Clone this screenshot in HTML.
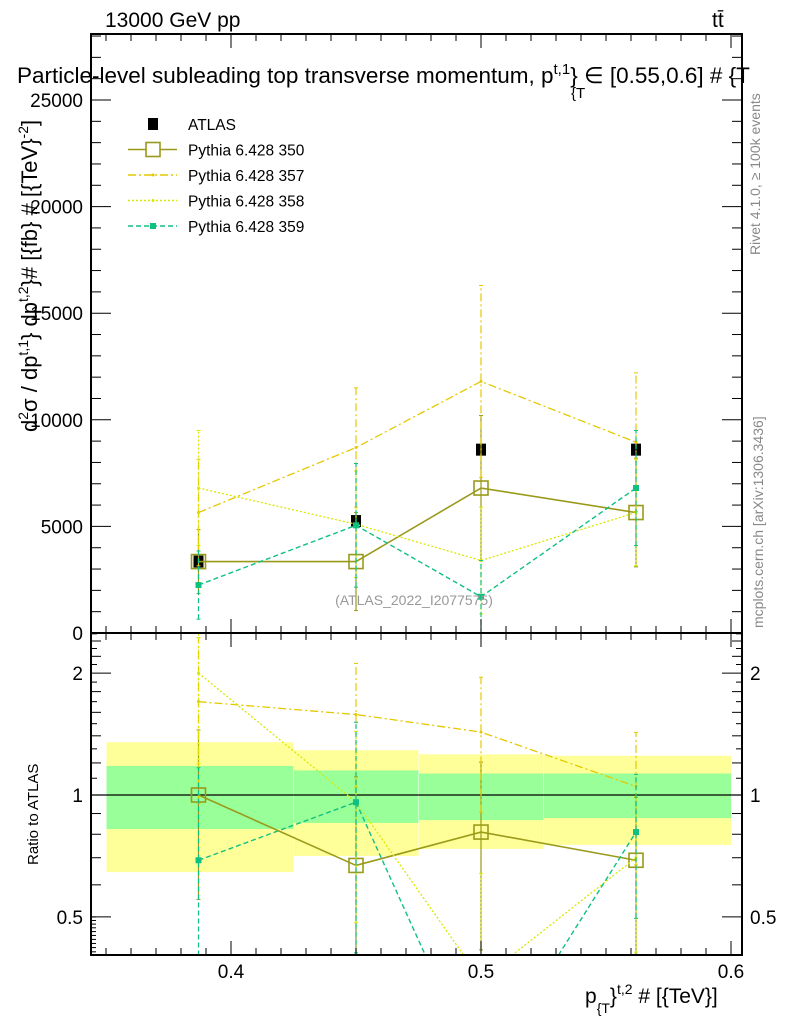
<!DOCTYPE html>
<html><head><meta charset="utf-8"><style>
html,body{margin:0;padding:0;background:#fff;overflow:hidden;width:786px;height:1024px}
svg{display:block;font-family:"Liberation Sans",sans-serif}
</style></head><body>
<svg id="c" width="786" height="1024" viewBox="0 0 786 1024" xmlns="http://www.w3.org/2000/svg">
<g id="bands"></g>
<g id="marks"></g>
<g id="axes"></g>
<text x="105" y="27" font-size="21">13000 GeV pp</text>
<text x="712" y="27" font-size="21">tt̄</text>
<text x="17" y="83" font-size="22.5">Particle-level subleading top transverse momentum, p<tspan dy="-9" font-size="15">t,1</tspan><tspan dy="9">}</tspan> ∈ [0.55,0.6] # {T</text>
<text x="571" y="98" font-size="15">{T</text>
<text transform="translate(37,432) rotate(-90)" font-size="22">d<tspan dy="-9" font-size="14">2</tspan><tspan dy="9">σ / dp</tspan><tspan dy="-9" font-size="14">t,1</tspan><tspan dy="9">} dp</tspan><tspan dy="-9" font-size="14">t,2</tspan><tspan dy="9">}# [{fb} # [{TeV}</tspan><tspan dy="-9" font-size="14">-2</tspan><tspan dy="9">]</tspan></text>
<text transform="translate(38,865) rotate(-90)" font-size="15">Ratio to ATLAS</text>
<text x="585" y="1003" font-size="21">p<tspan dy="10" font-size="14">{T</tspan><tspan dy="-10">}</tspan><tspan dy="-9" font-size="14">t,2</tspan><tspan dy="9"> # [{TeV}]</tspan></text>
<text transform="translate(760,255) rotate(-90)" font-size="14" fill="#888">Rivet 4.1.0, ≥ 100k events</text>
<text transform="translate(763,628) rotate(-90)" font-size="14" fill="#888">mcplots.cern.ch [arXiv:1306.3436]</text>
<text x="414" y="605" font-size="14" fill="#999" text-anchor="middle">(ATLAS_2022_I2077575)</text>
</svg>
<script>
const xVals=[0.387,0.45,0.5,0.562];
const atlas=[3350,5250,8600,8600];
const s350=[3350,3350,6800,5650];
const e350=[1500,2300,3400,2550];
const s357=[5650,8700,11800,8950];
const e357=[2500,2800,4500,3250];
const s358=[6800,5100,3400,5650];
const e358=[2700,2500,2500,2500];
const s359=[2250,5050,1700,6800];
const e359=[1600,2900,1700,2700];
const r350=[1.0,0.67,0.81,0.69];
const r357=[1.70,1.58,1.43,1.05];
const r358=[2.0,0.96,0.35,0.70];
const r359=[0.69,0.96,0.2,0.81];
const binEdges=[0.35,0.425,0.475,0.525,0.6];
const yelHi=[1.35,1.29,1.26,1.25];
const yelLo=[0.645,0.707,0.736,0.753];
const grnHi=[1.18,1.15,1.13,1.13];
const grnLo=[0.824,0.853,0.867,0.877];
const yTicks=[0,5000,10000,15000,20000,25000];
const rTicks=[0.5,1,2];
const xTicks=[0.4,0.5,0.6];

const NS="http://www.w3.org/2000/svg";
const L=91,R=742,T=34,M=633,B=955;
const X=v=>231+(v-0.4)*2500;
const Y=v=>633-v*0.02132;
const RY=v=>795-Math.log10(v)*405;
function mk(p,tag,at){const e=document.createElementNS(NS,tag);for(const k in at)e.setAttribute(k,at[k]);document.getElementById(p).appendChild(e);return e;}

for(let i=0;i<4;i++){
 const x1=X(binEdges[i])+0.5,x2=X(binEdges[i+1]);
 const y=mk('bands','rect',{x:x1,y:RY(yelHi[i]),width:x2-x1,height:RY(yelLo[i])-RY(yelHi[i]),fill:'#ffff99'});
 
 
 const g=mk('bands','rect',{x:x1,y:RY(grnHi[i]),width:x2-x1,height:RY(grnLo[i])-RY(grnHi[i]),fill:'#99ff99'});
 
 
}
const one=mk('bands','line',{x1:L,x2:R,y1:RY(1),y2:RY(1),stroke:'#000','stroke-width':1.2});



const defs=mk('marks','defs',{});
const cp1=document.createElementNS(NS,'clipPath');cp1.id='cm';defs.appendChild(cp1);
const r1=document.createElementNS(NS,'rect');r1.setAttribute('x',L);r1.setAttribute('y',T);r1.setAttribute('width',R-L);r1.setAttribute('height',M-T);cp1.appendChild(r1);
const cp2=document.createElementNS(NS,'clipPath');cp2.id='cr';defs.appendChild(cp2);
const r2=document.createElementNS(NS,'rect');r2.setAttribute('x',L);r2.setAttribute('y',M);r2.setAttribute('width',R-L);r2.setAttribute('height',B-M);cp2.appendChild(r2);
const gm=mk('marks','g',{'clip-path':'url(#cm)'});gm.id='gm';
const gr=mk('marks','g',{'clip-path':'url(#cr)'});gr.id='gr';

const styles=[
 {name:'pythia-350',col:'#9a9a1a',dash:'',w:1.6,mark:'open'},
 {name:'pythia-357',col:'#e6c800',dash:'8,3,2,3',w:1.3,mark:'dot'},
 {name:'pythia-358',col:'#d8e800',dash:'2,2',w:1.3,mark:'dot'},
 {name:'pythia-359',col:'#10c080',dash:'5,3',w:1.4,mark:'sq'}];
const mainS=[s350,s357,s358,s359],mainE=[e350,e357,e358,e359],ratS=[r350,r357,r358,r359];

function series(g,vals,errs,yf,st,ratio){
 const pts=vals.map((v,i)=>X(xVals[i])+','+yf(v)).join(' ');
 for(let i=0;i<vals.length;i++){
  const x=X(xVals[i]);let lo,hi;
  if(ratio){const atl=atlas[i];lo=Math.max(0.05,(vals[i]*atl-errs[i])/atl);hi=(vals[i]*atl+errs[i])/atl;}
  else{lo=Math.max(0,vals[i]-errs[i]);hi=vals[i]+errs[i];}
  const e=mk(g,'line',{x1:x,x2:x,y1:yf(lo),y2:yf(hi),stroke:st.col,'stroke-width':1.2,'stroke-dasharray':st.dash});
  
  
  mk(g,'line',{x1:x-2,x2:x+2,y1:yf(hi),y2:yf(hi),stroke:st.col});
  mk(g,'line',{x1:x-2,x2:x+2,y1:yf(lo),y2:yf(lo),stroke:st.col});
 }
 const pl=mk(g,'polyline',{points:pts,fill:'none',stroke:st.col,'stroke-width':st.w,'stroke-dasharray':st.dash});
 
 
 vals.forEach((v,i)=>{
  const x=X(xVals[i]),y=yf(v);let m;
  if(st.mark==='open')m=mk(g,'rect',{x:x-7,y:y-7,width:14,height:14,fill:'none',stroke:st.col,'stroke-width':1.6});
  else if(st.mark==='sq')m=mk(g,'rect',{x:x-3,y:y-3,width:6,height:6,fill:st.col});
  else m=mk(g,'circle',{cx:x,cy:y,r:1.5,fill:st.col});
  
  
 });
}
atlas.forEach((v,i)=>{
 const m=mk('gm','rect',{x:X(xVals[i])-5,y:Y(v)-6,width:10,height:12,fill:'#000'});
 
 
});
styles.forEach((st,k)=>{series('gm',mainS[k],mainE[k],Y,st,false);});
const rErr=[e350,e357,e358,e359];
styles.forEach((st,k)=>{series('gr',ratS[k],rErr[k],RY,st,true);});

const ax='axes';
mk(ax,'rect',{x:L,y:T,width:R-L,height:B-T,fill:'none',stroke:'#000','stroke-width':2});
mk(ax,'line',{x1:L,x2:R,y1:M,y2:M,stroke:'#000','stroke-width':2});
for(let v=0.35;v<=0.6001;v+=0.01){
 const x=X(v);const maj=Math.abs(v*10-Math.round(v*10))<1e-6;const h=maj?14:7;
 [T,M,B].forEach(y0=>{
  if(y0!==T)mk(ax,'line',{x1:x,x2:x,y1:y0,y2:y0-h,stroke:'#000'});
  if(y0!==B)mk(ax,'line',{x1:x,x2:x,y1:y0,y2:y0+h,stroke:'#000'});
 });
}
xTicks.forEach(v=>{const t=mk(ax,'text',{x:X(v),y:978,'font-size':19,'text-anchor':'middle'});t.textContent=String(v);
 
 });
for(let v=0;v<=28000;v+=1000){const y=Y(v);const maj=v%5000===0;const h=maj?20:10;
 mk(ax,'line',{x1:L,x2:L+h,y1:y,y2:y,stroke:'#000'});mk(ax,'line',{x1:R,x2:R-h,y1:y,y2:y,stroke:'#000'});}
yTicks.forEach(v=>{const t=mk(ax,'text',{x:83,y:Y(v)+7,'font-size':19,'text-anchor':'end'});t.textContent=String(v);
 
 });
[0.5,0.6,0.7,0.8,0.9,1,2].forEach(v=>{const y=RY(v);const h=(v===0.5||v===1||v===2)?20:10;
 mk(ax,'line',{x1:L,x2:L+h,y1:y,y2:y,stroke:'#000'});mk(ax,'line',{x1:R,x2:R-h,y1:y,y2:y,stroke:'#000'});});
for(let v=0.41;v<=0.5;v+=0.01){const y=RY(v);mk(ax,'line',{x1:L,x2:L+5,y1:y,y2:y,stroke:'#000'});}
[1.1,1.2,1.3,1.4,1.5,1.6,1.7,1.8,1.9,2.1,2.2,2.3,2.4,2.5].forEach(v=>{const y=RY(v);const h=(v*10)%2===0?10:6;
 mk(ax,'line',{x1:L,x2:L+h,y1:y,y2:y,stroke:'#000'});mk(ax,'line',{x1:R,x2:R-h,y1:y,y2:y,stroke:'#000'});});
rTicks.forEach(v=>{[[83,'end'],[750,'start']].forEach(([x,a])=>{const t=mk(ax,'text',{x:x,y:RY(v)+7,'font-size':19,'text-anchor':a});t.textContent=String(v);
 
 });});

const leg=[['ATLAS'],['Pythia 6.428 350',0],['Pythia 6.428 357',1],['Pythia 6.428 358',2],['Pythia 6.428 359',3]];
leg.forEach((l,i)=>{const y=124+i*25.5;
 if(i===0){mk(ax,'rect',{x:148,y:y-6,width:10,height:12,fill:'#000'});}
 else{const st=styles[l[1]];mk(ax,'line',{x1:128,x2:177,y1:y,y2:y,stroke:st.col,'stroke-width':1.4,'stroke-dasharray':st.dash});
  if(st.mark==='open')mk(ax,'rect',{x:146,y:y-7,width:14,height:14,fill:'#fff',stroke:st.col,'stroke-width':1.6});
  else if(st.mark==='sq')mk(ax,'rect',{x:150,y:y-3,width:6,height:6,fill:st.col});
  else mk(ax,'circle',{cx:153,cy:y,r:1.5,fill:st.col});}
 const t=mk(ax,'text',{x:188,y:y+6,'font-size':15.5});t.textContent=l[0];
 
 
});
</script>
</body></html>
